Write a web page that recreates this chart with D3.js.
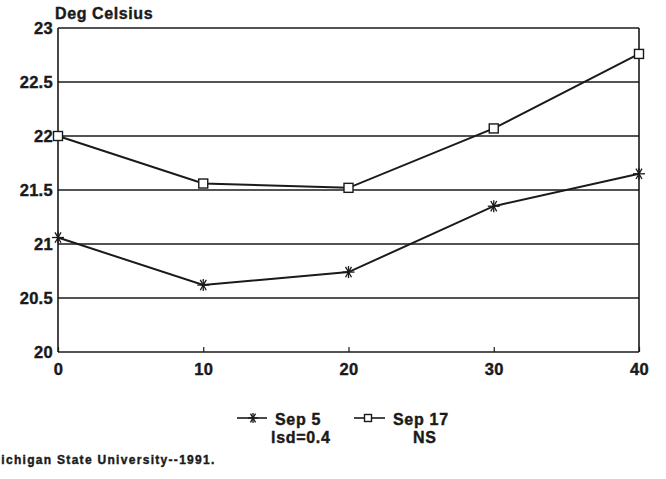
<!DOCTYPE html>
<html>
<head>
<meta charset="utf-8">
<script src="https://cdn.jsdelivr.net/npm/d3@7"></script>
<style>
  body { margin: 0; background: #fff; }
  svg { display: block; }
  text { font-family: "Liberation Sans", Arial, sans-serif; font-weight: bold; fill: #1a1a1a; stroke: #1a1a1a; stroke-width: 0.4px; }
</style>
</head>
<body>
<svg id="chart" width="666" height="479"></svg>
<script>
// chart data
var depths = [0, 10, 20, 30, 40];
var sep5 = [21.06, 20.62, 20.74, 21.35, 21.65];
var sep17 = [22.0, 21.56, 21.52, 22.07, 22.76];
var yTicks = [20, 20.5, 21, 21.5, 22, 22.5, 23];
var xTicks = [0, 10, 20, 30, 40];

var svg = d3.select('#chart');
var ink = '#1a1a1a';

// plot area
var plotLeft = 58, plotRight = 639, plotTop = 28, plotBottom = 352;

var x = d3.scaleLinear().domain([0, 40]).range([plotLeft, plotRight]);
var y = d3.scaleLinear().domain([20, 23]).range([plotBottom, plotTop]);

// horizontal grid lines
svg.selectAll('.grid')
  .data(yTicks)
  .enter()
  .append('line')
  .attr('class', 'grid')
  .attr('x1', plotLeft)
  .attr('x2', plotRight)
  .attr('y1', function(d) { return y(d); })
  .attr('y2', function(d) { return y(d); })
  .attr('stroke', ink)
  .attr('stroke-width', 1.6);

// frame sides
svg.append('line')
  .attr('x1', plotLeft).attr('x2', plotLeft)
  .attr('y1', plotTop).attr('y2', plotBottom)
  .attr('stroke', ink).attr('stroke-width', 1.6);
svg.append('line')
  .attr('x1', plotRight).attr('x2', plotRight)
  .attr('y1', plotTop).attr('y2', plotBottom)
  .attr('stroke', ink).attr('stroke-width', 1.6);

// y axis labels
var yAxis = d3.axisLeft(y).tickValues(yTicks).tickSize(0).tickPadding(5)
  .tickFormat(function(d) { return String(d); });
var yg = svg.append('g').attr('transform', 'translate(' + plotLeft + ',0)').call(yAxis);
yg.select('.domain').remove();
yg.selectAll('text')
  .attr('font-size', '16.5px')
  .attr('font-family', '"Liberation Sans", Arial, sans-serif')
  .attr('font-weight', 'bold')
  .attr('letter-spacing', '0.3px')
  .attr('fill', ink);

// x axis labels with small inner ticks
var xAxis = d3.axisBottom(x).tickValues(xTicks).tickSize(-5).tickPadding(11);
var xg = svg.append('g').attr('transform', 'translate(0,' + plotBottom + ')').call(xAxis);
xg.select('.domain').remove();
xg.selectAll('line').attr('stroke', ink).attr('stroke-width', 1.2);
xg.selectAll('text')
  .attr('font-size', '16.5px')
  .attr('font-family', '"Liberation Sans", Arial, sans-serif')
  .attr('font-weight', 'bold')
  .attr('letter-spacing', '0.3px')
  .attr('fill', ink);

// axis title
svg.append('text')
  .attr('x', 55)
  .attr('y', 19)
  .attr('font-size', '16px')
  .attr('letter-spacing', '0.6px')
  .text('Deg Celsius');

var line = d3.line()
  .x(function(d, i) { return x(depths[i]); })
  .y(function(d) { return y(d); });

// asterisk marker
function asterisk(g, cx, cy, r) {
  [30, 90, 150].forEach(function(a) {
    var rad = a * Math.PI / 180;
    g.append('line')
      .attr('x1', cx - r * Math.sin(rad)).attr('y1', cy - r * Math.cos(rad))
      .attr('x2', cx + r * Math.sin(rad)).attr('y2', cy + r * Math.cos(rad))
      .attr('stroke', ink).attr('stroke-width', 1.3);
  });
  g.append('line')
    .attr('x1', cx).attr('x2', cx)
    .attr('y1', cy - r).attr('y2', cy + r)
    .attr('stroke', ink).attr('stroke-width', 1.3);
}

function square(g, cx, cy, s) {
  g.append('rect')
    .attr('x', cx - s / 2).attr('y', cy - s / 2)
    .attr('width', s).attr('height', s)
    .attr('fill', '#fff')
    .attr('stroke', ink).attr('stroke-width', 1.4);
}

// Sep 5 series
svg.append('path')
  .datum(sep5)
  .attr('d', line)
  .attr('fill', 'none')
  .attr('stroke', ink)
  .attr('stroke-width', 2);
var m5 = svg.append('g');
sep5.forEach(function(v, i) { asterisk(m5, x(depths[i]), y(v), 6); });

// Sep 17 series
svg.append('path')
  .datum(sep17)
  .attr('d', line)
  .attr('fill', 'none')
  .attr('stroke', ink)
  .attr('stroke-width', 2);
var m17 = svg.append('g');
sep17.forEach(function(v, i) { square(m17, x(depths[i]), y(v), 9); });

// legend
var lg = svg.append('g');
lg.append('line').attr('x1', 237).attr('x2', 267).attr('y1', 418).attr('y2', 418)
  .attr('stroke', ink).attr('stroke-width', 1.6);
asterisk(lg, 253, 418, 5);
lg.append('text').attr('x', 275).attr('y', 425).attr('font-size', '16px').attr('letter-spacing', '0.7px').text('Sep 5');
lg.append('text').attr('x', 271).attr('y', 443).attr('font-size', '16px').attr('letter-spacing', '0.7px').text('lsd=0.4');

lg.append('line').attr('x1', 354).attr('x2', 385).attr('y1', 418).attr('y2', 418)
  .attr('stroke', ink).attr('stroke-width', 1.6);
square(lg, 368, 418, 7);
lg.append('text').attr('x', 393).attr('y', 425).attr('font-size', '16px').attr('letter-spacing', '0.7px').text('Sep 17');
lg.append('text').attr('x', 413).attr('y', 443).attr('font-size', '16px').attr('letter-spacing', '0.7px').text('NS');

// source note
svg.append('text')
  .attr('x', -10)
  .attr('y', 464)
  .attr('font-size', '12px')
  .attr('letter-spacing', '1.3px')
  .text('Michigan State University--1991.');
</script>
</body>
</html>
